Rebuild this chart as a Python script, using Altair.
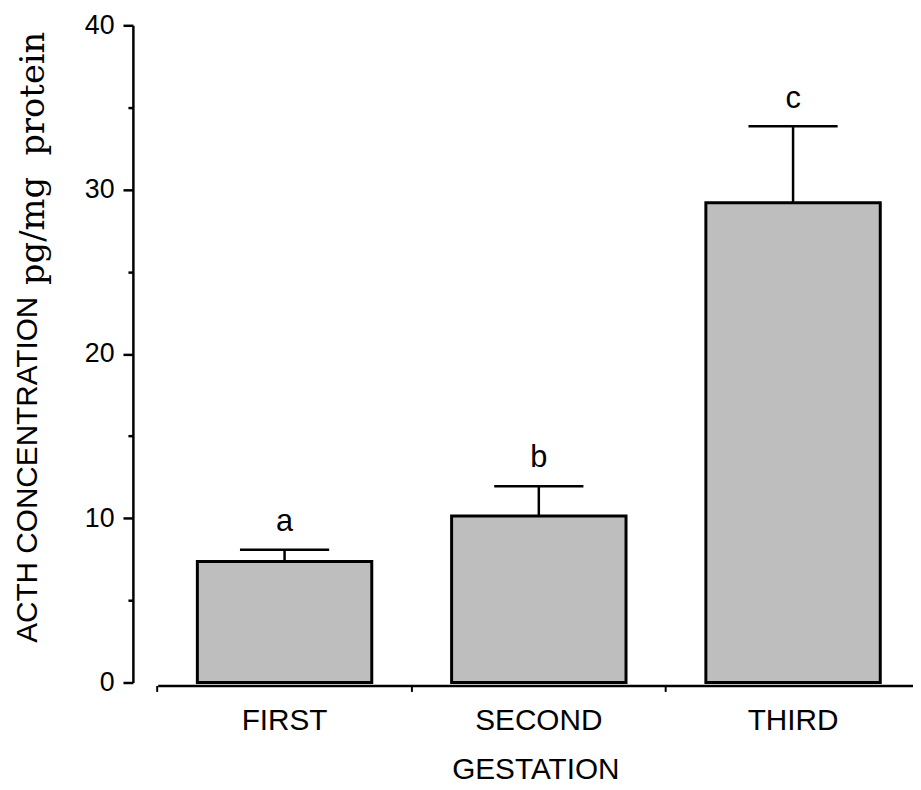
import altair as alt
import pandas as pd

GROUPS = ["FIRST", "SECOND", "THIRD"]
MEANS = [7.36, 10.14, 29.2]
SEMS = [0.72, 1.81, 4.65]
LETTERS = ["a", "b", "c"]
Y_TICKS = [0, 10, 20, 30, 40]
Y_MINOR = [5, 15, 25, 35]
X_TITLE = "GESTATION"
Y_TITLE_SANS = "ACTH CONCENTRATION"
Y_TITLE_SERIF = "pg/mg\u00a0\u00a0protein"

df = pd.DataFrame({
    "g": GROUPS,
    "mean": MEANS,
    "upper": [m + s for m, s in zip(MEANS, SEMS)],
    "letter": LETTERS,
})

SANS = "Liberation Sans"
SERIF = "DejaVu Serif"

x_scale = alt.Scale(domain=GROUPS, paddingInner=0.314, paddingOuter=0.1424, align=0.548)
y_scale = alt.Scale(domain=[0, 40], nice=False, zero=True)

base = alt.Chart(df)

bars = base.mark_bar(fill="#bebebe", stroke="black", strokeWidth=3).encode(
    x=alt.X("g:N", scale=x_scale, sort=GROUPS,
            axis=alt.Axis(title=X_TITLE, labelAngle=0, ticks=False, tickSize=0,
                          labelFont=SANS, labelFontSize=30, labelColor="black",
                          labelPadding=20, domainColor="black", domainWidth=2.5,
                          offset=3, grid=False,
                          titleFont=SANS, titleFontSize=30, titleFontWeight="normal",
                          titleColor="black", titlePadding=20)),
    y=alt.Y("mean:Q", scale=y_scale,
            axis=alt.Axis(values=Y_TICKS, title=None, offset=25, orient="left",
                          labelFont=SANS, labelFontSize=27, labelColor="black",
                          labelPadding=9, tickSize=10, tickWidth=2.5, tickColor="black",
                          domainColor="black", domainWidth=2.5, grid=False)),
)

rules = base.mark_rule(strokeWidth=2.5, color="black").encode(
    x=alt.X("g:N", scale=x_scale, sort=GROUPS,
            axis=alt.Axis(labels=False, domain=False, ticks=True, tickSize=6,
                          tickWidth=2, tickColor="black", bandPosition=-0.229,
                          title=None, orient="bottom", offset=3, grid=False)),
    y=alt.Y("mean:Q", scale=y_scale,
            axis=alt.Axis(values=Y_MINOR, labels=False, domain=False, tickSize=5,
                          tickWidth=2.5, tickColor="black", title=None,
                          orient="left", offset=25, grid=False)),
    y2="upper:Q",
)

caps = base.mark_tick(size=90, thickness=2.5, color="black", opacity=1).encode(
    x=alt.X("g:N", scale=x_scale, sort=GROUPS, axis=None),
    y=alt.Y("upper:Q", scale=y_scale, axis=None),
)

letters = base.mark_text(font=SANS, fontSize=31, baseline="alphabetic", dy=-19,
                         color="black").encode(
    x=alt.X("g:N", scale=x_scale, sort=GROUPS, axis=None),
    y=alt.Y("upper:Q", scale=y_scale, axis=None),
    text="letter:N",
)

t1 = alt.Chart(pd.DataFrame({"t": [Y_TITLE_SANS]})).mark_text(
    font=SANS, fontSize=30, angle=270, align="left", baseline="alphabetic",
    color="black").encode(x=alt.value(-122), y=alt.value(623), text="t:N")

t2 = alt.Chart(pd.DataFrame({"t": [Y_TITLE_SERIF]})).mark_text(
    font=SERIF, fontSize=34, angle=270, align="left", baseline="alphabetic",
    color="black").encode(x=alt.value(-115), y=alt.value(262), text="t:N")

chart = alt.layer(bars, rules, caps, letters, t1, t2).resolve_axis(
    x="independent", y="independent"
).properties(
    width=762, height=663,
    padding={"left": 151, "top": 14, "right": 0, "bottom": 104},
    autosize=alt.AutoSizeParams(type="none"),
).configure_view(stroke=None)

chart.save("out.html", embed_options={"renderer": "svg", "actions": False})
